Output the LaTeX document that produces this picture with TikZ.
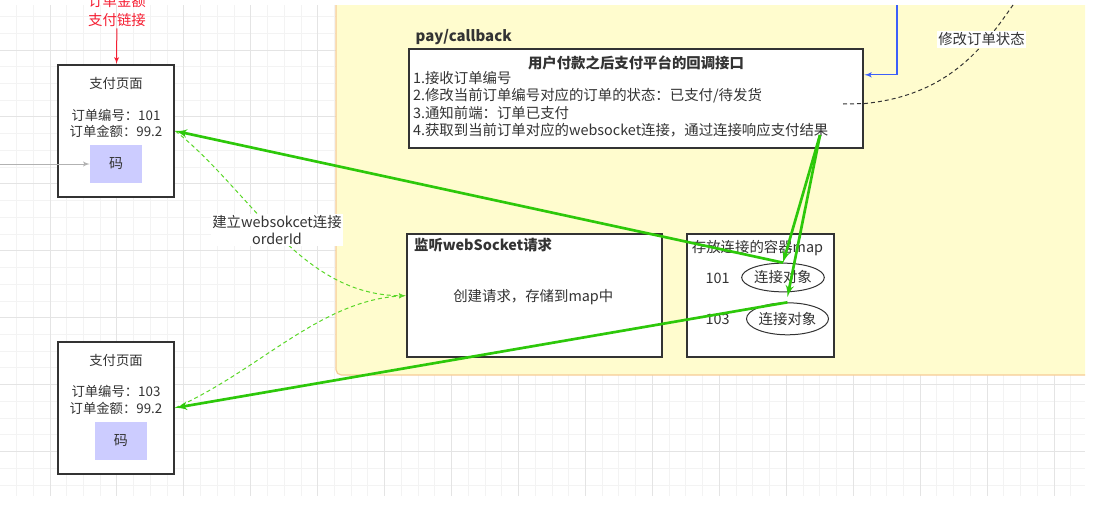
\documentclass[tikz,border=0pt]{standalone}
\usepackage{fontspec}
\setmainfont{Noto Sans CJK SC}
\definecolor{GridMinor}{RGB}{243,243,243}
\definecolor{GridMajor}{RGB}{228,228,228}
\definecolor{NoteFill}{RGB}{255,252,206}
\definecolor{NoteLine}{RGB}{246,204,150}
\definecolor{BoxLine}{RGB}{51,51,51}
\definecolor{TextGray}{RGB}{51,51,51}
\definecolor{CodeFill}{RGB}{204,204,255}
\definecolor{PushGreen}{RGB}{45,200,10}
\definecolor{SockGreen}{RGB}{90,215,40}
\definecolor{NotifyBlue}{RGB}{60,95,250}
\definecolor{LinkRed}{RGB}{245,30,50}
\definecolor{ScanGray}{RGB}{178,178,178}
\usetikzlibrary{shapes.geometric, arrows, positioning}

\begin{document}
\begin{tikzpicture}[x=0.75pt, y=-0.75pt, node distance=2cm]
        \tikzstyle{pagebox} = [rectangle, draw=BoxLine, line width=1.6pt, fill=white,
            minimum width=87.5pt, minimum height=99pt]
        \tikzstyle{apibox} = [rectangle, draw=BoxLine, line width=1.6pt, fill=white]
        \tikzstyle{codebox} = [rectangle, fill=CodeFill, text=TextGray,
            minimum width=39pt, minimum height=28.5pt, font=\fontsize{10.5}{12}\selectfont]
        \tikzstyle{pagetext} = [text=TextGray, inner sep=1pt, align=center, font=\fontsize{10}{12.3}\selectfont]
        \tikzstyle{bodytext} = [text=TextGray, inner sep=1pt, font=\fontsize{10.8}{13.1}\selectfont]
        \tikzstyle{headtext} = [text=TextGray, inner sep=1pt, font=\bfseries\fontsize{10.8}{13}\selectfont]
        \tikzstyle{connoval} = [ellipse, draw=BoxLine, line width=0.75pt, fill=white, inner sep=0pt,
            text=TextGray, font=\fontsize{10.8}{13}\selectfont]
        \tikzstyle{pushline} = [draw=PushGreen, line width=2pt, -latex']
        \tikzstyle{sockline} = [draw=SockGreen, line width=0.75pt, dash pattern=on 3pt off 2.25pt, -latex']
        \tikzstyle{edgelabel} = [fill=white, text=TextGray, inner sep=1pt, align=center,
            font=\fontsize{10.8}{12.5}\selectfont]

        \useasboundingbox (0,0) rectangle (1093,514);

        % grid and note area
        \begin{scope}
            \clip (0,5) rectangle (1085,495.5);
            \foreach \k in {-3,...,61}
                \draw[GridMinor, line width=0.75pt] ({50+16.735*\k},5) -- ({50+16.735*\k},495.5);
            \foreach \k in {-3,...,26}
                \draw[GridMinor, line width=0.75pt] (0,{50+16.735*\k}) -- (1085,{50+16.735*\k});
            \foreach \k in {0,...,15}
                \draw[GridMajor, line width=0.75pt] ({50+66.94*\k},5) -- ({50+66.94*\k},495.5);
            \foreach \k in {0,...,6}
                \draw[GridMajor, line width=0.75pt] (0,{50+66.94*\k}) -- (1085,{50+66.94*\k});
            \draw[fill=NoteFill, draw=NoteLine, line width=0.9pt, rounded corners=4pt]
                (336,-20) rectangle (1120,375);
        \end{scope}

        % payment pages
        \node [pagebox] (page1) at (116,131) {};
        \node [pagetext] (page1head) at (116,83.3) {支付页面};
        \node [pagetext] (page1info) at (116,123.3) {订单编号：101\\订单金额：99.2};
        \node [codebox] (code1) at (116,164) {码};

        \node [pagebox] (page2) at (116,407.8) {};
        \node [pagetext] (page2head) at (116,360) {支付页面};
        \node [pagetext] (page2info) at (116,400) {订单编号：103\\订单金额：99.2};
        \node [codebox] (code2) at (120.8,440.8) {码};

        \node [pagetext, text=LinkRed, font=\fontsize{10.8}{14.3}\selectfont] (entry) at (117,10.5) {订单金额\\支付链接};
        \coordinate (scanin) at (0,164);

        % callback
        \node [apibox, minimum width=340.7pt, minimum height=74.25pt] (callback) at (636.2,98.8) {};
        \node [headtext, font=\bfseries\fontsize{11.2}{13}\selectfont, above right=1.5pt and 4.5pt of callback.north west] (cblabel) {pay/callback};
        \node [headtext] (cbhead) at (636,63) {用户付款之后支付平台的回调接口};
        \node [bodytext, align=left, anchor=west] (cbsteps) at (411.5,104) {1.接收订单编号\\2.修改当前订单编号对应的订单的状态：已支付/待发货\\3.通知前端：订单已支付\\4.获取到当前订单对应的websocket连接，通过连接响应支付结果};
        \coordinate (respond) at (820,135);
        \coordinate (notify) at (897,5);
        \coordinate (statusfrom) at (843,104);
        \coordinate (statusto) at (1013,5);

        % websocket
        \node [apibox, minimum width=191.25pt, minimum height=92.5pt] (listen) at (534.2,295.7) {};
        \node [headtext, anchor=west] (listenhead) at (412.5,245.5) {监听webSocket请求};
        \node [bodytext] (listenbody) at (533.3,297.3) {创建请求，存储到map中};

        \node [apibox, minimum width=110pt, minimum height=92.5pt] (connmap) at (760.7,295.7) {};
        \node [bodytext] (maphead) at (757.5,248.3) {存放连接的容器map};
        \node [bodytext] (key1) at (717.7,278.3) {101};
        \node [bodytext] (key2) at (717.7,319.3) {103};
        \node [connoval, minimum width=62pt, minimum height=21.5pt] (conn1) at (783,277.5) {连接对象};
        \node [connoval, minimum width=61.5pt, minimum height=24pt] (conn2) at (787.5,318.8) {连接对象};

        % connectors
        \draw [draw=LinkRed, line width=0.75pt, -latex'] (entry) -- (page1);
        \draw [draw=ScanGray, line width=0.75pt, -latex'] (scanin) -- (code1);
        \draw [draw=NotifyBlue, line width=0.9pt, -latex'] (notify) |- (callback.6.66);
        \draw [draw=BoxLine, line width=0.75pt, dash pattern=on 3pt off 2.25pt]
            (statusfrom) -- (865,103.5) .. controls (950,95) and (985,45) .. (statusto);
        \node [edgelabel] (statuslabel) at (981.5,39.5) {修改订单状态};

        \draw [sockline] (page1.east) .. controls (250,190) and (300,296) .. (listen.west);
        \draw [sockline] (page2.east) .. controls (260,370) and (320,300) .. (listen.west);
        \node [edgelabel] (socklabel) at (277,230) {建立websokcet连接\\orderId};

        \path [pushline] (respond) -- (conn1.north);
        \path [pushline] (respond) -- ([yshift=4pt]conn2.north);
        \path [pushline] (conn1.north) -- (page1.east);
        \path [pushline] (conn2.north) -- (page2.east);
\end{tikzpicture}
\end{document}
